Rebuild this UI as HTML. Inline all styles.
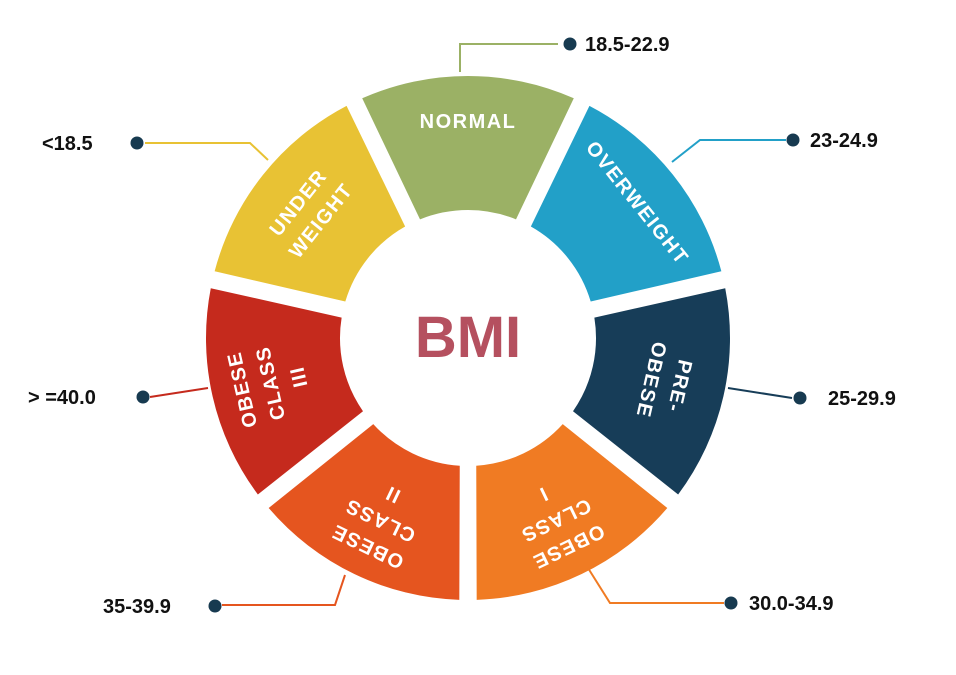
<!DOCTYPE html>
<html><head><meta charset="utf-8"><style>
html,body{margin:0;padding:0;background:#fff;}
svg{display:block;}
text{font-family:"Liberation Sans",sans-serif;font-weight:bold;}
</style></head><body>
<svg width="956" height="675" viewBox="0 0 956 675" xmlns="http://www.w3.org/2000/svg">
<g id="ring"></g>
<g fill="none" stroke-width="2">
<polyline points="558,44 460,44 460,72" stroke="#9bb165"/>
<polyline points="145,143 250,143 268,160" stroke="#e8c234"/>
<polyline points="786,140 700,140 672,162" stroke="#22a0c8"/>
<polyline points="150,397 208,388" stroke="#c52a1d"/>
<polyline points="728,388 792,398" stroke="#173d58"/>
<polyline points="222,605 335,605 345,575" stroke="#e5551f"/>
<polyline points="724,603 610,603 588,568" stroke="#f07b23"/>
</g>
<g fill="#173a50">
<circle cx="570" cy="44" r="6.5"/>
<circle cx="137" cy="143" r="6.5"/>
<circle cx="793" cy="140" r="6.5"/>
<circle cx="143" cy="397" r="6.5"/>
<circle cx="800" cy="398" r="6.5"/>
<circle cx="215" cy="606" r="6.5"/>
<circle cx="731" cy="603" r="6.5"/>
</g>
<g font-size="20" fill="#111">
<text x="585" y="51">18.5-22.9</text>
<text x="42" y="150">&lt;18.5</text>
<text x="810" y="147">23-24.9</text>
<text x="28" y="404">&gt; =40.0</text>
<text x="828" y="405">25-29.9</text>
<text x="103" y="613">35-39.9</text>
<text x="749" y="610">30.0-34.9</text>
</g>
<text x="468" y="357" font-size="58" fill="#b5505f" text-anchor="middle">BMI</text>
<script>
(function(){
var cx=468,cy=338,R=262,r=128,g=document.getElementById('ring');
var segs=[["#9bb165",["NORMAL"]],["#22a0c8",["OVERWEIGHT"]],["#173d58",["PRE-","OBESE"]],["#f07b23",["OBESE","CLASS","I"]],["#e5551f",["OBESE","CLASS","II"]],["#c52a1d",["OBESE","CLASS","III"]],["#e8c234",["UNDER","WEIGHT"]]];
var step=360/7,gap=1.9,ns="http://www.w3.org/2000/svg";
function P(rad,a){a=a*Math.PI/180;return [cx+rad*Math.cos(a),cy+rad*Math.sin(a)];}
segs.forEach(function(s,i){
var c=-90+i*step,a0=c-step/2+gap,a1=c+step/2-gap;
var gi=gap*262/128*0.95;
var b0=c-step/2+gi,b1=c+step/2-gi;
var p1=P(R,a0),p2=P(R,a1),p3=P(r,b1),p4=P(r,b0);
var d="M"+p1+" A"+R+","+R+" 0 0 1 "+p2+" L"+p3+" A"+r+","+r+" 0 0 0 "+p4+"Z";
var pa=document.createElementNS(ns,"path");pa.setAttribute("d",d);pa.setAttribute("fill",s[0]);g.appendChild(pa);
var n=s[1].length,lh=29;
s[1].forEach(function(t,j){
var rad=203-(j-(n-1)/2)*lh+(n==1?14:0);
var p=P(rad,c);
var tx=document.createElementNS(ns,"text");
tx.setAttribute("x",0);tx.setAttribute("y",7);tx.setAttribute("text-anchor","middle");
tx.setAttribute("font-size","20");tx.setAttribute("letter-spacing","1.5");tx.setAttribute("fill","#fff");
tx.setAttribute("transform","translate("+p[0]+","+p[1]+") rotate("+(c+90)+")");
tx.textContent=t;g.appendChild(tx);
});
});
})();
</script>
</svg>
</body></html>
